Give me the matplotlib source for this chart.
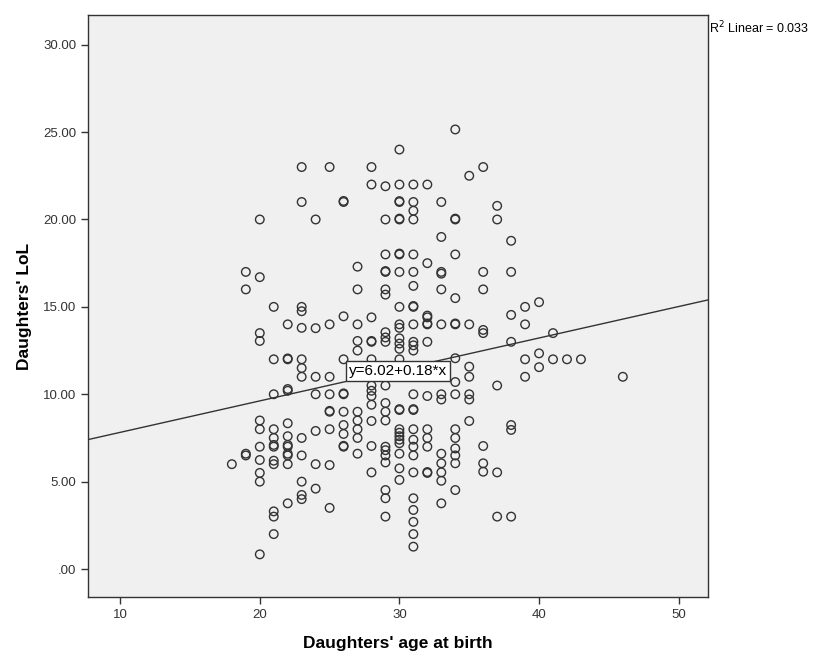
import numpy as np
import matplotlib
matplotlib.use('Agg')
import matplotlib.pyplot as plt

plt.rcParams['font.family'] = ['Liberation Sans', 'DejaVu Sans']

# daughters' age at birth -> LoL values
lol_by_age = {
    18: [6.0],
    19: [17.0, 16.0, 6.5, 6.6],
    20: [20.0, 16.7, 13.5, 13.05, 8.5, 8.0, 7.0, 6.24, 5.5, 5.0, 0.84],
    21: [15.0, 12.0, 10.0, 8.0, 7.5, 7.0, 7.1, 6.2, 6.0, 3.3, 3.0, 2.0],
    22: [14.0, 12.0, 12.05, 10.3, 10.2, 8.34, 7.6, 7.0, 7.1, 6.5, 6.6, 6.0, 3.76],
    23: [23.0, 21.0, 15.0, 14.75, 13.8, 12.0, 11.5, 11.0, 7.5, 6.5, 5.0, 4.24, 4.0],
    24: [20.0, 13.78, 11.0, 10.0, 7.9, 6.0, 4.6],
    25: [23.0, 14.0, 11.0, 10.0, 9.0, 9.05, 8.0, 5.95, 3.5],
    26: [21.0, 21.06, 14.46, 12.0, 10.0, 10.05, 9.0, 8.24, 7.73, 7.0, 7.05],
    27: [17.3, 16.0, 14.0, 13.05, 12.5, 9.0, 8.5, 8.0, 7.5, 6.6],
    28: [23.0, 22.0, 14.4, 13.0, 13.05, 12.0, 11.3, 10.5, 10.2, 9.9, 9.4, 8.47, 7.04, 5.53],
    29: [21.9, 20.0, 18.0, 17.0, 17.05, 16.0, 15.7, 13.55, 13.25, 13.0, 10.5, 9.5, 9.0,
         8.5, 7.0, 6.8, 6.5, 6.1, 4.52, 4.05, 3.0],
    30: [24.0, 22.0, 21.0, 21.05, 20.0, 20.05, 18.0, 18.05, 17.0, 15.0, 14.0, 13.8, 13.2,
         12.9, 12.6, 12.0, 11.0, 9.1, 9.15, 8.0, 7.8, 7.6, 7.4, 7.2, 6.6, 5.76, 5.1],
    31: [22.0, 21.0, 20.5, 20.0, 18.0, 17.0, 16.2, 15.0, 15.05, 14.0, 13.0, 12.8, 12.5,
         10.0, 9.1, 9.15, 8.0, 7.4, 7.0, 6.5, 5.53, 4.05, 3.38, 2.7, 2.0, 1.28],
    32: [22.0, 17.5, 14.5, 14.4, 14.0, 14.05, 13.0, 9.9, 8.0, 7.5, 7.0, 5.5, 5.55],
    33: [21.0, 19.0, 17.0, 16.9, 16.0, 14.0, 10.0, 9.7, 6.6, 6.05, 5.53, 5.05, 3.76],
    34: [25.15, 20.0, 20.05, 18.0, 15.5, 14.0, 14.05, 12.06, 10.7, 10.0, 8.0, 7.5, 6.9,
         6.5, 6.05, 4.52],
    35: [22.5, 14.0, 11.58, 11.0, 10.0, 9.7, 8.47],
    36: [23.0, 17.0, 16.0, 13.68, 13.5, 7.04, 6.05, 5.57],
    37: [20.78, 20.0, 10.5, 5.53, 3.0],
    38: [18.78, 17.0, 14.54, 13.0, 8.24, 7.96, 3.0],
    39: [15.0, 14.0, 12.0, 11.0],
    40: [15.27, 12.34, 11.55],
    41: [13.5, 12.0],
    42: [12.0],
    43: [12.0],
    46: [11.0],
}

age = []
lol = []
for a, vals in lol_by_age.items():
    age += [a] * len(vals)
    lol += vals
age = np.array(age, dtype=float)
lol = np.array(lol)

intercept = 6.02
slope = 0.18
r2 = 0.033

xticks = [10, 20, 30, 40, 50]
yticks = [0, 5, 10, 15, 20, 25, 30]
xlim = (7.7, 52.1)
ylim = (-1.6, 31.7)

fig = plt.figure(figsize=(8.25, 6.57), dpi=100)
ax = fig.add_axes([0.1067, 0.0913, 0.7515, 0.8859])
ax.set_facecolor('#f0f0f0')

ax.scatter(age, lol, s=38, facecolors='none', edgecolors='#333333', linewidths=1.0, zorder=3)

xs = np.array(xlim)
ax.plot(xs, intercept + slope * xs, color='#333333', lw=1.0, zorder=2)

ax.text(29.9, 11.33, 'y=6.02+0.18*x', ha='center', va='center', fontsize=11, zorder=5,
        bbox=dict(boxstyle='square,pad=0.2', fc='white', ec='#333333', lw=1.0))

ax.set_xlim(*xlim)
ax.set_ylim(*ylim)
ax.set_xticks(xticks)
ax.set_yticks(yticks)
ax.set_yticklabels(['.00' if v == 0 else '%.2f' % v for v in yticks])
ax.tick_params(direction='out', length=5, width=1, labelsize=9.5, colors='#333333')
for s in ax.spines.values():
    s.set_color('#333333')
    s.set_linewidth(1.0)

ax.set_xlabel("Daughters' age at birth", fontsize=12.5, fontweight='bold', labelpad=11)
ax.set_ylabel("Daughters' LoL", fontsize=12.5, fontweight='bold', labelpad=8)

fig.text(0.859, 0.957, 'R$^2$ Linear = ' + str(r2), fontsize=9, ha='left', va='center')

fig.savefig('out.png', dpi=100)
